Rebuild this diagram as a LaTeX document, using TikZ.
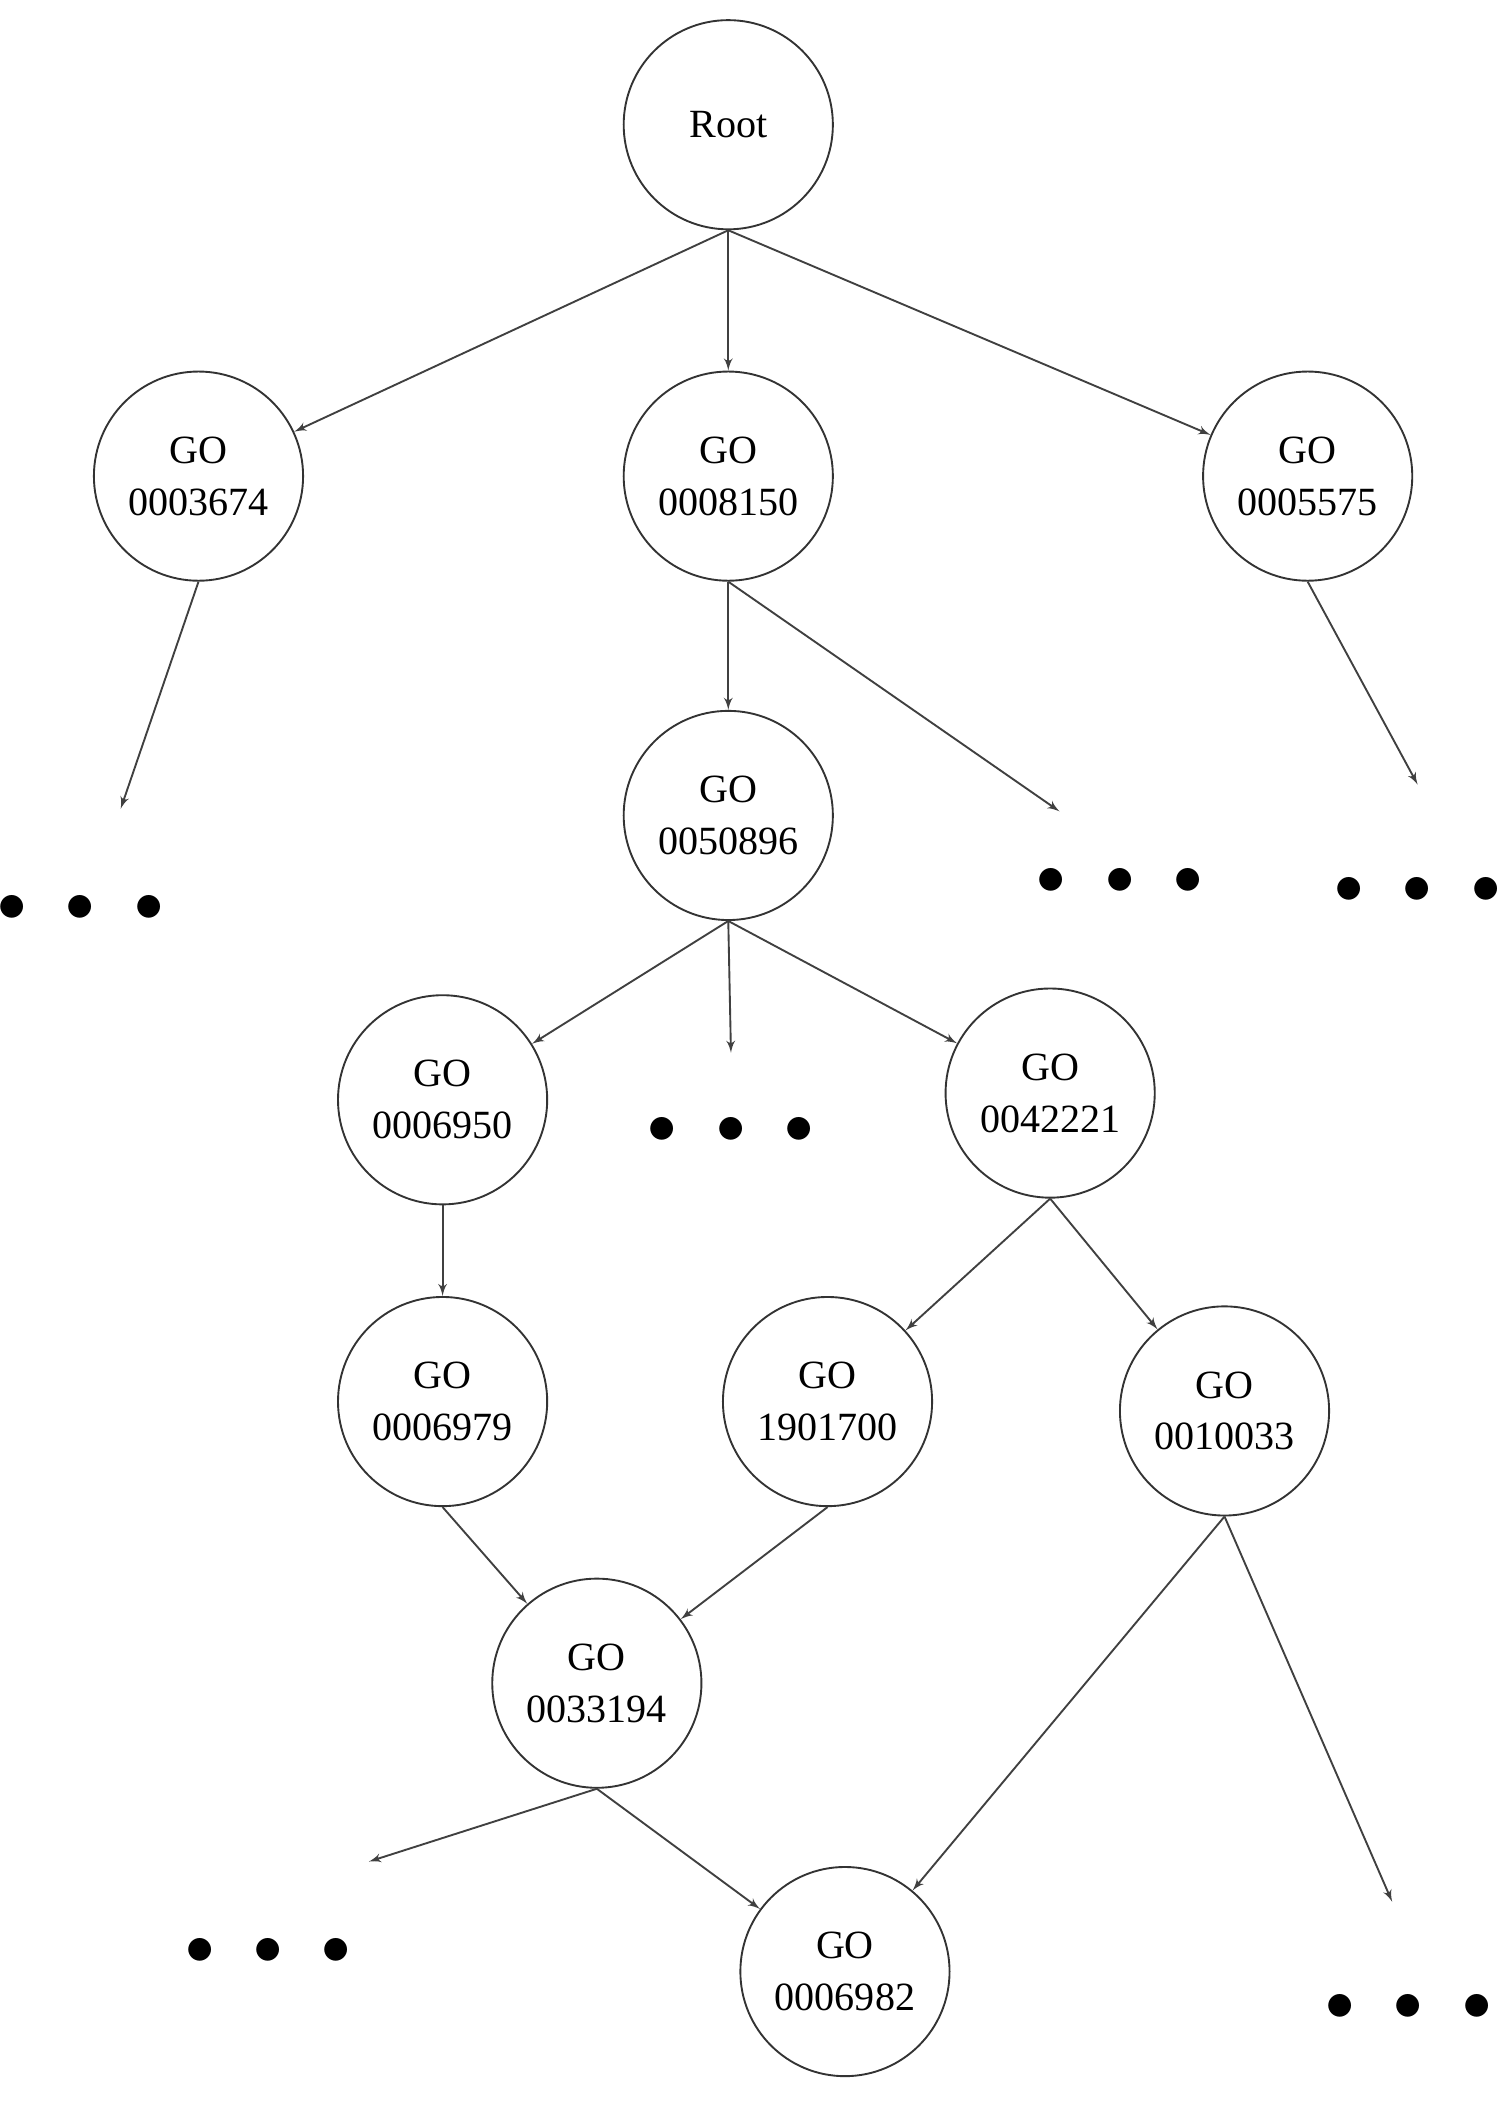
\documentclass[tikz,border=0pt]{standalone}
\usepackage{fontspec}
\setmainfont{Liberation Serif}
\usetikzlibrary{arrows,positioning}
\tikzset{
	term/.style={circle, draw=black!80, thick, minimum size=3.12cm, inner sep=0pt, align=center, font=\fontsize{17}{22}\selectfont},
	more/.style={inner sep=0pt, font=\fontsize{40}{40}\selectfont},
	link/.style={->, draw=black!75, thick, >=latex'}
}
\newcommand{\threedots}{$\bullet\mkern8mu\bullet\mkern8mu\bullet$}
\begin{document}
\begin{tikzpicture}[x=0.02cm,y=-0.02cm]
	\useasboundingbox (0,0) rectangle (1116,1568);
	\node (root) at (543,93)  [term] {Root};
	\node (g3674) at (148,355) [term] {GO\\0003674};
	\node (g8150) at (543,355) [term] {GO\\0008150};
	\node (g5575) at (975,355) [term] {GO\\0005575};
	\node (g50896) at (543,608) [term] {GO\\0050896};
	\node (g6950) at (330,820) [term] {GO\\0006950};
	\node (g42221) at (783,815) [term] {GO\\0042221};
	\node (g6979) at (330,1045) [term] {GO\\0006979};
	\node (g1901700) at (617,1045) [term] {GO\\1901700};
	\node (g10033) at (913,1052) [term] {GO\\0010033};
	\node (g33194) at (445,1255) [term] {GO\\0033194};
	\node (g6982) at (630,1470) [term] {GO\\0006982};

	\node (m1) at (60,677) [more] {\threedots};
	\node (m2) at (835,657) [more] {\threedots};
	\node (m3) at (1057,664) [more] {\threedots};
	\node (m4) at (545,843) [more] {\threedots};
	\node (m5) at (200,1455) [more] {\threedots};
	\node (m6) at (1050,1497) [more] {\threedots};

	\coordinate (e1) at (90,603);
	\coordinate (e2) at (790,605);
	\coordinate (e3) at (1057,585);
	\coordinate (e4) at (545,785);
	\coordinate (e5) at (275,1388);
	\coordinate (e6) at (1038,1418);

	\draw [link] (root.south) -- (g3674);
	\draw [link] (root.south) -- (g8150);
	\draw [link] (root.south) -- (g5575);
	\draw [link] (g3674.south) -- (e1);
	\draw [link] (g8150.south) -- (g50896);
	\draw [link] (g8150.south) -- (e2);
	\draw [link] (g5575.south) -- (e3);
	\draw [link] (g50896.south) -- (g6950);
	\draw [link] (g50896.south) -- (e4);
	\draw [link] (g50896.south) -- (g42221);
	\draw [link] (g6950.south) -- (g6979);
	\draw [link] (g42221.south) -- (g1901700);
	\draw [link] (g42221.south) -- (g10033);
	\draw [link] (g6979.south) -- (g33194);
	\draw [link] (g1901700.south) -- (g33194);
	\draw [link] (g10033.south) -- (g6982);
	\draw [link] (g10033.south) -- (e6);
	\draw [link] (g33194.south) -- (e5);
	\draw [link] (g33194.south) -- (g6982);
\end{tikzpicture}
\end{document}
